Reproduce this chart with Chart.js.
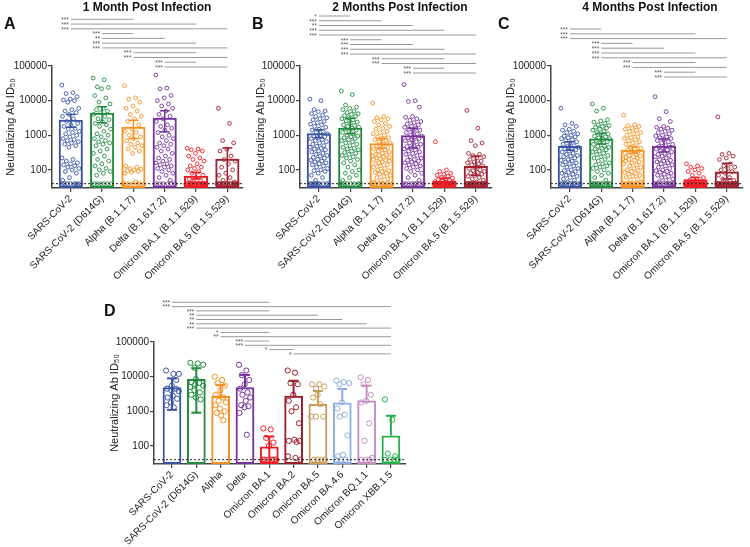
<!DOCTYPE html>
<html>
<head>
<meta charset="utf-8">
<script src="https://cdn.jsdelivr.net/npm/chart.js@4.4.1/dist/chart.umd.min.js"></script>
<style>
  body { margin: 0; background: #fff; }
  #page { position: relative; width: 750px; height: 547px; overflow: hidden; font-family: "Liberation Sans", Arial, sans-serif; color: #111; }
  canvas { position: absolute; }
  .ttl { position: absolute; width: 200px; text-align: center; font-weight: bold; font-size: 12px; line-height: 14px; }
  .tag { position: absolute; font-weight: bold; font-size: 16px; line-height: 16px; }
</style>
</head>
<body>
<div id="page">
  <canvas id="chartA"></canvas>
  <canvas id="chartB"></canvas>
  <canvas id="chartC"></canvas>
  <canvas id="chartD"></canvas>
  <div class="ttl" style="left:47px;top:0px">1 Month Post Infection</div>
  <div class="ttl" style="left:300px;top:0px">2 Months Post Infection</div>
  <div class="ttl" style="left:550px;top:0px">4 Months Post Infection</div>
  <div class="tag" style="left:4px;top:16px">A</div>
  <div class="tag" style="left:252px;top:16px">B</div>
  <div class="tag" style="left:498px;top:16px">C</div>
  <div class="tag" style="left:104px;top:303px">D</div>
</div>
<script>
// ---- data ----
const variantsABC = ['SARS-CoV-2', 'SARS-CoV-2 (D614G)', 'Alpha (B.1.1.7)', 'Delta (B.1.617.2)', 'Omicron BA.1 (B.1.1.529)', 'Omicron BA.5 (B.1.5.529)'];
const variantsD = ['SARS-CoV-2', 'SARS-CoV-2 (D614G)', 'Alpha', 'Delta', 'Omicron BA.1', 'Omicron BA.2', 'Omicron BA.5', 'Omicron BA.4.6', 'Omicron BQ.1.1', 'Omicron XBB.1.5'];
const yTickValues = [100, 1000, 10000, 100000];
const yMin = 30;
const yMax = 100000;
const detectionLimit = 40;

// 1 month
const barsA = [2800, 4500, 1750, 3200, 68, 210];
const errLowA = [1700, 2300, 800, 1250, 55, 30];
const errHighA = [4000, 6700, 2700, 5100, 85, 430];
const pointsA = [
  [28000,17000,16000,13000,11000,10500,10000,9000,6000,5500,5000,4500,4000,3500,3000,2500,2200,2000,1800,1600,1500,1300,1200,1100,1000,900,800,750,700,650,600,550,500,450,220,200,180,160,150,140,130,120,110,100,90,80,60,50,40,40,40,40,40,40,40,40],
  [45000,40000,25000,24000,22000,14000,12000,9000,8000,6000,5500,5000,4500,4000,3500,3000,2800,2500,2200,2000,1800,1500,1300,1100,1000,900,800,700,650,600,550,500,400,350,300,250,200,180,150,130,110,100,90,80,70,40,40,40,40,40,40],
  [27000,12000,11000,9000,7000,6000,5000,4000,3500,3000,2500,2000,1500,1300,1200,1000,900,800,700,600,550,500,450,400,350,300,130,120,110,105,100,95,90,85,80,45,40,40,40,40,40,40,40],
  [55000,23000,22000,14000,12000,10000,8000,7000,6000,5000,4000,3500,3000,2500,2000,1800,1600,1400,1200,1000,900,800,700,600,550,500,450,400,350,300,250,220,200,180,160,150,140,130,120,110,100,90,80,70,60,50,40,40,40,40,40,40],
  [420,400,380,350,300,250,220,200,180,150,130,120,110,100,90,80,70,60,55,50,45,40,40,40,40,40,40,40,40,40,40,40,40,40,40,40,40,40,40,40,40],
  [6000,2200,700,600,400,350,250,200,180,150,120,100,80,70,60,50,45,40,40,40,40,40,40,40,40,40,40,40,40,40,40,40]
];
const sigA = [[0,2,'***'],[0,4,'***'],[0,5,'***'],[1,2,'***'],[1,3,'**'],[1,4,'***'],[1,5,'***'],[2,4,'***'],[2,5,'***'],[3,4,'***'],[3,5,'***']];

// 2 months
const barsB = [1150, 1650, 590, 1000, 48, 130];
const errLowB = [850, 1100, 420, 430, 42, 70];
const errHighB = [1450, 3100, 810, 1600, 57, 250];
const pointsB = [
  [11000,10000,5500,5000,4800,4200,3800,3500,3200,3000,2800,2500,2300,2100,2000,1800,1700,1500,1400,1300,1200,1100,1000,950,900,850,800,750,700,650,600,550,500,480,450,420,400,380,350,330,300,280,260,250,230,220,200,190,180,170,160,150,140,130,120,110,100,95,90,80,70,60,50,40,40,40,40,40,40,40,40,40,40],
  [19000,15000,7500,6500,6000,5500,5000,4500,4200,4000,3700,3500,3200,3000,2800,2600,2400,2200,2000,1900,1800,1700,1600,1500,1400,1300,1200,1100,1000,950,900,850,800,750,700,650,600,550,500,450,420,400,380,350,320,300,280,260,240,220,200,180,160,140,120,100,90,80,70,60,50,40,40,40,40,40,40,40,40],
  [8500,3500,3200,3000,2800,2500,2200,2000,1800,1600,1500,1300,1200,1100,1000,900,850,800,750,700,650,600,550,500,450,420,400,380,350,330,300,280,270,260,250,240,230,220,210,200,190,180,170,160,150,140,130,120,110,100,95,90,85,80,75,70,65,60,55,50,45,40,40,40,40,40,40,40,40,40,40],
  [29000,10000,9500,6500,3500,3300,3000,2700,2500,2300,2100,2000,1800,1700,1600,1500,1400,1300,1200,1100,1000,950,900,850,800,750,700,650,600,550,500,470,450,420,400,380,350,330,300,280,260,240,220,200,190,180,170,160,150,140,130,120,110,100,90,80,70,60,50,40,40,40,40,40,40,40,40],
  [650,100,90,80,75,70,65,60,58,55,52,50,48,46,45,44,42,40,40,40,40,40,40,40,40,40,40,40,40,40,40,40,40,40,40,40,40,40,40],
  [5200,1600,700,600,500,300,280,260,240,220,200,180,170,160,150,140,130,120,110,100,95,90,85,80,75,70,65,60,55,50,45,40,40,40,40,40,40,40,40,40,40,40,40,40,40,40,40,40,40,40,40]
];
const sigB = [[0,1,'*'],[0,2,'***'],[0,3,'**'],[0,4,'***'],[0,5,'***'],[1,2,'***'],[1,3,'***'],[1,4,'***'],[1,5,'***'],[2,4,'***'],[2,5,'***'],[3,4,'***'],[3,5,'***']];

// 4 months
const barsC = [490, 810, 380, 500, 54, 90];
const errLowC = [370, 560, 300, 330, 48, 55];
const errHighC = [650, 1150, 470, 780, 60, 155];
const pointsC = [
  [6000,2200,2000,1800,1500,1400,1300,1200,1100,1000,950,900,850,800,750,700,650,600,550,500,470,450,420,400,380,350,330,300,280,260,250,240,220,200,190,180,170,160,150,140,130,120,110,100,95,90,85,80,75,70,65,60,55,50,45,40,40,40,40,40,40,40,40,40,40],
  [8000,6000,5000,2800,2600,2400,2200,2000,1900,1800,1700,1600,1500,1400,1300,1200,1100,1000,950,900,850,800,750,700,650,600,550,500,480,450,420,400,380,350,330,300,280,260,240,220,200,180,160,150,140,130,120,110,100,90,80,70,60,50,40,40,40,40,40,40,40,40,40,40],
  [3800,2000,1900,1800,1600,1500,1400,1300,1200,1100,1000,900,850,800,750,700,650,600,550,500,450,420,400,380,350,330,300,280,260,250,240,230,220,210,200,190,180,170,160,150,140,130,120,110,100,95,90,85,80,75,70,65,60,55,50,45,40,40,40,40,40,40,40,40,40,40,40,40],
  [13000,4800,3000,2500,1800,1700,1600,1500,1400,1300,1200,1100,1000,950,900,850,800,750,700,650,600,550,500,470,450,420,400,380,350,330,300,280,260,250,240,220,200,190,180,170,160,150,140,130,120,110,100,95,90,85,80,75,70,65,60,55,50,45,40,40,40,40,40,40,40,40,40,40],
  [150,130,120,110,100,90,80,70,60,55,50,45,40,40,40,40,40,40,40,40,40,40,40,40,40,40,40,40,40,40,40,40,40,40,40,40,40],
  [3400,300,280,250,220,200,150,130,120,110,100,90,80,70,60,55,50,45,40,40,40,40,40,40,40,40,40,40,40,40,40,40,40,40,40,40,40,40]
];
const sigC = [[0,1,'***'],[0,4,'***'],[0,5,'***'],[1,2,'***'],[1,3,'***'],[1,4,'***'],[1,5,'***'],[2,4,'***'],[2,5,'***'],[3,4,'***'],[3,5,'***']];

// variant panel
const barsD = [4900, 8500, 2750, 4900, 96, 2800, 1620, 1800, 2050, 200];
const errLowD = [1100, 910, null, null, 32, null, null, null, null, null];
const errHighD = [8900, 17500, 5700, 11200, 187, 7600, 3850, 4400, 5500, 740];
const pointsD = [
  [15000,12000,12000,8000,5500,4500,4500,4000,3800,2800,2500,2300,1800,1500,1300],
  [25000,24000,22000,18000,8500,7000,6500,6000,5500,5000,4000,3500,3000,2500,2200],
  [10000,8000,6500,5500,4000,3000,2500,2000,1800,1500,1200,1000,900,750,550],
  [22000,15000,11000,8000,6000,4500,3500,3000,2500,2000,1500,1400,1300,900,210],
  [320,300,170,125,100,40,40,40,40,40,40],
  [15000,13000,6500,6000,3000,2000,1300,1000,450,150,140,140,130,50,45,40],
  [6000,6000,5200,4500,3000,2500,1600,700,700,700,40,40,40,40],
  [7800,7000,6500,6000,1800,1200,800,700,200,55,50,40,40,40],
  [9500,8000,6000,3000,2000,1800,450,140,45,40,40,40],
  [2200,570,60,50,40,40,40,40]
];
const sigD = [[0,4,'***'],[0,9,'***'],[1,4,'***'],[1,6,'**'],[1,7,'**'],[1,8,'**'],[1,9,'***'],[2,4,'*'],[2,9,'**'],[3,4,'***'],[3,9,'***'],[4,5,'*'],[5,9,'*']];

// ---- styling ----
const colorsABC = ['#3953a4', '#218a3f', '#f4901e', '#74329a', '#ec1c24', '#a01e2e'];
const colorsD = ['#3953a4', '#218a3f', '#f4901e', '#74329a', '#ec1c24', '#9d1d2b', '#c99a5b', '#8eaee0', '#c58fc2', '#25b04b'];
const FONT = "'Liberation Sans', Arial, sans-serif";
const AXIS = '#444';
const TEXT = '#222';

// sideways spread of one group (pixel offsets): each point starts from a
// scattered preferred slot and slides to the nearest free spot in the bar
function swarmOffsets(values, pxPerDecade, minGap, spread) {
  const placed = [];
  const offsets = new Array(values.length).fill(0);
  const order = values.map((_, i) => i).sort((a, b) => values[b] - values[a]);
  order.forEach((i, n) => {
    const py = Math.log10(values[i]) * pxPerDecade;
    const pref = (((n * 0.6180339) % 1) * 2 - 1) * spread * 0.85;
    let best = pref, bestGap = -1;
    for (let k = 0; k <= spread * 8; k++) {
      const dx = pref + (k % 2 ? 1 : -1) * Math.ceil(k / 2) * 0.5;
      if (dx < -spread || dx > spread) continue;
      let gap = Infinity;
      for (const p of placed) {
        const d = Math.hypot(p.x - dx, p.y - py);
        if (d < gap) gap = d;
      }
      if (gap >= minGap) { best = dx; bestGap = gap; break; }
      if (gap > bestGap) { bestGap = gap; best = dx; }
    }
    placed.push({ x: best, y: py });
    offsets[i] = best;
  });
  return offsets;
}

// comparison brackets above each panel
const sigPlugin = {
  id: 'sig',
  afterDraw(chart, args, opts) {
    const { ctx } = chart;
    const x = chart.scales.x;
    ctx.save();
    opts.pairs.forEach(([a, b, stars], k) => {
      const y = opts.top + k * opts.step;
      const x1 = x.getPixelForValue(a);
      const x2 = x.getPixelForValue(b);
      ctx.strokeStyle = '#999';
      ctx.lineWidth = 1;
      ctx.beginPath();
      ctx.moveTo(x1, y);
      ctx.lineTo(x2, y);
      ctx.stroke();
      ctx.fillStyle = '#555';
      ctx.font = '6.5px ' + FONT;
      ctx.textAlign = 'right';
      ctx.textBaseline = 'middle';
      ctx.fillText(stars, x1 - 2, y + 1);
    });
    ctx.restore();
  }
};

function makePanel(cfg) {
  const el = document.getElementById(cfg.id);
  const [bl, bt, bw, bh] = cfg.box;
  const area = cfg.area;
  el.style.left = bl + 'px';
  el.style.top = bt + 'px';
  el.width = bw;
  el.height = bh;

  const pxPerUnit = (area.right - area.left) / (cfg.xMax - cfg.xMin);
  const pxPerDecade = (area.bottom - area.top) / (Math.log10(yMax) - Math.log10(yMin));

  const datasets = [];
  datasets.push({
    type: 'bar',
    data: cfg.bars.map((v, i) => ({ x: i, y: v })),
    backgroundColor: 'rgba(255,255,255,0)',
    borderColor: cfg.colors,
    borderWidth: 2,
    borderSkipped: false,
    grouped: false,
    categoryPercentage: 1,
    barPercentage: 0.77,
    order: 5
  });
  cfg.points.forEach((vals, i) => {
    const off = swarmOffsets(vals, pxPerDecade, cfg.gap, cfg.spread);
    datasets.push({
      type: 'scatter',
      data: vals.map((v, j) => ({ x: i + off[j] / pxPerUnit, y: v })),
      pointRadius: cfg.radius,
      pointBorderWidth: cfg.ring,
      pointBorderColor: cfg.colors[i],
      pointBackgroundColor: 'rgba(255,255,255,0)',
      order: 4
    });
  });
  datasets.push({
    type: 'line',
    data: [{ x: cfg.xMin, y: detectionLimit }, { x: cfg.xMax, y: detectionLimit }],
    borderColor: '#222',
    borderWidth: 1,
    borderDash: [2, 2],
    pointRadius: 0,
    order: 3
  });
  datasets.push({
    type: 'bar',
    data: cfg.bars.map((v, i) => ({ x: i, y: [cfg.lo[i] == null ? v : cfg.lo[i], cfg.hi[i]] })),
    backgroundColor: cfg.colors,
    borderWidth: 0,
    grouped: false,
    maxBarThickness: cfg.errWidth,
    order: 2
  });
  const caps = [];
  cfg.hi.forEach((v, i) => caps.push({ x: i, y: v, c: cfg.colors[i] }));
  cfg.lo.forEach((v, i) => { if (v != null) caps.push({ x: i, y: v, c: cfg.colors[i] }); });
  datasets.push({
    type: 'scatter',
    data: caps.map(p => ({ x: p.x, y: p.y })),
    pointStyle: 'line',
    pointRadius: cfg.cap,
    pointBorderWidth: cfg.errWidth,
    pointBorderColor: caps.map(p => p.c),
    order: 1
  });

  return new Chart(el, {
    type: 'bar',
    data: { datasets },
    plugins: [sigPlugin],
    options: {
      responsive: false,
      animation: false,
      devicePixelRatio: 1,
      events: [],
      layout: { padding: { left: 0, top: area.top - bt, right: bl + bw - area.right, bottom: 0 } },
      plugins: {
        legend: { display: false },
        tooltip: { enabled: false },
        sig: { pairs: cfg.sig, top: cfg.sigTop - bt, step: cfg.sigStep }
      },
      scales: {
        x: {
          type: 'linear',
          min: cfg.xMin,
          max: cfg.xMax,
          offset: false,
          afterBuildTicks: s => { s.ticks = cfg.cats.map((c, i) => ({ value: i })); },
          afterFit: s => { s.height = bt + bh - area.bottom; s.paddingLeft = 0; s.paddingRight = 0; },
          ticks: {
            callback: v => cfg.cats[Math.round(v)],
            autoSkip: false,
            minRotation: 45,
            maxRotation: 45,
            padding: 1,
            color: TEXT,
            font: { family: FONT, size: 10 }
          },
          grid: { display: true, offset: false, drawOnChartArea: false, drawTicks: true, tickLength: 4, color: AXIS, lineWidth: 1.2 },
          border: { display: true, color: AXIS, width: 1.5 }
        },
        y: {
          type: 'logarithmic',
          min: yMin,
          max: yMax,
          afterBuildTicks: s => { s.ticks = yTickValues.map(v => ({ value: v })); },
          afterFit: s => { s.width = area.left - bl; s.paddingTop = 0; s.paddingBottom = 0; },
          ticks: {
            callback: v => String(v),
            autoSkip: false,
            padding: 1,
            color: TEXT,
            font: { family: FONT, size: 10 }
          },
          grid: { display: true, drawOnChartArea: false, drawTicks: true, tickLength: 4, color: AXIS, lineWidth: 1.2 },
          border: { display: true, color: AXIS, width: 1.5 },
          title: {
            display: true,
            text: 'Neutralizing Ab ID\u2085\u2080',
            color: TEXT,
            font: { family: FONT, size: 11 },
            padding: { top: 4, bottom: 0 }
          }
        }
      }
    }
  });
}

const smallDots = { radius: 1.9, ring: 0.9, gap: 3.4, spread: 10.5, errWidth: 1.5, cap: 5 };

makePanel(Object.assign({
  id: 'chartA', box: [0, 0, 250, 300], area: { left: 52, top: 66, right: 243, bottom: 188 },
  xMin: -0.6, xMax: 5.5, cats: variantsABC, colors: colorsABC,
  bars: barsA, lo: errLowA, hi: errHighA, points: pointsA,
  sig: sigA, sigTop: 19.3, sigStep: 4.77
}, smallDots));

makePanel(Object.assign({
  id: 'chartB', box: [250, 0, 250, 300], area: { left: 300, top: 66, right: 491.5, bottom: 188 },
  xMin: -0.6, xMax: 5.5, cats: variantsABC, colors: colorsABC,
  bars: barsB, lo: errLowB, hi: errHighB, points: pointsB,
  sig: sigB, sigTop: 16, sigStep: 4.75
}, smallDots));

makePanel(Object.assign({
  id: 'chartC', box: [500, 0, 250, 300], area: { left: 551, top: 66, right: 742.5, bottom: 188 },
  xMin: -0.6, xMax: 5.5, cats: variantsABC, colors: colorsABC,
  bars: barsC, lo: errLowC, hi: errHighC, points: pointsC,
  sig: sigC, sigTop: 29, sigStep: 4.8
}, smallDots));

makePanel({
  id: 'chartD', box: [104, 290, 320, 257], area: { left: 154, top: 342, right: 406, bottom: 464 },
  xMin: -0.74, xMax: 9.62, cats: variantsD, colors: colorsD,
  bars: barsD, lo: errLowD, hi: errHighD, points: pointsD,
  sig: sigD, sigTop: 302.3, sigStep: 4.3,
  radius: 2.6, ring: 1, gap: 5.2, spread: 7, errWidth: 2, cap: 5
});
</script>
</body>
</html>
